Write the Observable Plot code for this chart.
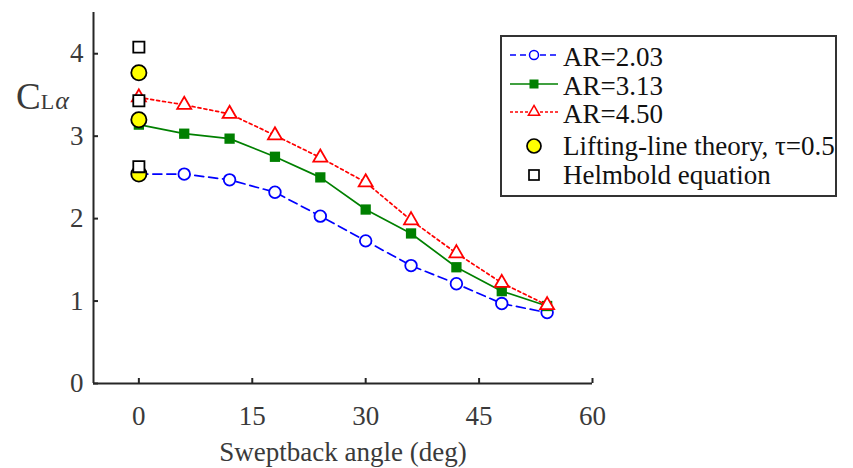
<!DOCTYPE html>
<html>
<head>
<meta charset="utf-8">
<script src="https://cdn.jsdelivr.net/npm/d3@7"></script>
<script src="https://cdn.jsdelivr.net/npm/@observablehq/plot@0.6"></script>
<style>
  body { margin: 0; background: #fff; }
  #wrap { position: relative; width: 853px; height: 468px; }
  #legend { position: absolute; left: 500px; top: 35px; }
</style>
</head>
<body>
<div id="wrap"></div>
<script>
// ---- data ----
const angles = [0, 6, 12, 18, 24, 30, 36, 42, 48, 54];
const ar203 = [2.54, 2.54, 2.47, 2.32, 2.03, 1.73, 1.43, 1.21, 0.97, 0.86];
const ar313 = [3.14, 3.03, 2.97, 2.75, 2.50, 2.11, 1.82, 1.41, 1.12, 0.94];
const ar450 = [3.47, 3.38, 3.27, 3.01, 2.74, 2.44, 1.98, 1.58, 1.22, 0.95];
const theoryAngles = [0, 0, 0];
const liftingLine = [3.77, 3.20, 2.54];
const helmbold = [4.08, 3.43, 2.63];
const xTicks = [0, 15, 30, 45, 60];
const yTicks = [0, 1, 2, 3, 4];
const seriesNames = ["AR=2.03", "AR=3.13", "AR=4.50", "Lifting-line theory, \u03c4=0.5", "Helmbold equation"];
const xLabel = "Sweptback angle (deg)";

const rows = (xs, ys) => xs.map((x, i) => ({x, y: ys[i]}));
const s1 = rows(angles, ar203), s2 = rows(angles, ar313), s3 = rows(angles, ar450);
const llt = rows(theoryAngles, liftingLine), hb = rows(theoryAngles, helmbold);

const font = "'Liberation Serif', 'Times New Roman', serif";
const W = 853, H = 468, mL = 93, mR = 261, mT = 12, mB = 85;
const frameW = W - mL - mR, frameH = H - mT - mB;
const fs = 27;

const chart = Plot.plot({
  width: W, height: H,
  marginLeft: mL, marginRight: mR, marginTop: mT, marginBottom: mB,
  x: {domain: [-6, 60]},
  y: {domain: [0, 4.5]},
  style: {fontFamily: font, fontSize: fs + "px", color: "#3a3a3a", background: "#fff", overflow: "visible"},
  marks: [
    Plot.axisX({ticks: xTicks, tickFormat: d3.format("d"), tickSize: 0, tickPadding: 22, label: null, fontSize: fs}),
    Plot.axisY({ticks: yTicks, tickFormat: d3.format("d"), tickSize: 0, tickPadding: 10, label: null, fontSize: fs}),
    Plot.tickX(xTicks, {x: d => d, insetTop: frameH - 5, stroke: "#262626", strokeWidth: 2}),
    Plot.tickY(yTicks, {y: d => d, insetRight: frameW - 5, stroke: "#262626", strokeWidth: 2}),
    Plot.ruleY([0], {stroke: "#262626", strokeWidth: 2}),
    Plot.ruleX([-6], {stroke: "#262626", strokeWidth: 2}),
    // AR=2.03
    Plot.line(s1, {x: "x", y: "y", stroke: "#0000ff", strokeWidth: 1.7, strokeDasharray: "9,5"}),
    Plot.dot(s1, {x: "x", y: "y", symbol: "circle", r: 5.8, fill: "#fff", stroke: "#0000ff", strokeWidth: 1.8}),
    // AR=3.13
    Plot.line(s2, {x: "x", y: "y", stroke: "#008000", strokeWidth: 1.7}),
    Plot.dot(s2, {x: "x", y: "y", symbol: "square", r: 5.8, fill: "#008000", stroke: "none"}),
    // AR=4.50
    Plot.line(s3, {x: "x", y: "y", stroke: "#ff0000", strokeWidth: 1.7, strokeDasharray: "3,3"}),
    Plot.dot(s3, {x: "x", y: "y", symbol: "triangle", r: 5.2, fill: "#fff", stroke: "#ff0000", strokeWidth: 1.8}),
    // theory points
    Plot.dot(llt, {x: "x", y: "y", symbol: "circle", r: 7.6, fill: "#ffff00", stroke: "#000", strokeWidth: 1.8}),
    Plot.dot(hb, {x: "x", y: "y", symbol: "square", r: 6.3, fill: "#fff", stroke: "#000", strokeWidth: 1.8}),
    // x axis label
    Plot.text([xLabel], {text: d => d, frameAnchor: "bottom", dy: 77, fontSize: fs, fill: "#3a3a3a"})
  ]
});
document.getElementById("wrap").appendChild(chart);

// y-axis label C_Lα
const svg = d3.select(chart);
const yl = svg.append("text").attr("x", 16).attr("y", 109).attr("text-anchor", "start")
  .attr("fill", "#3a3a3a").attr("font-family", font);
yl.append("tspan").attr("font-size", 37).text("C");
yl.append("tspan").attr("font-size", 22).text("L");
yl.append("tspan").attr("font-size", 26).attr("font-style", "italic").attr("dx", 1).text("\u03b1");

// legend (HTML-positioned SVG)
const leg = d3.select("#wrap").append("svg").attr("id", "legend")
  .attr("width", 338).attr("height", 163);
leg.append("rect").attr("x", 1).attr("y", 1).attr("width", 335).attr("height", 160)
  .attr("fill", "#fff").attr("stroke", "#333").attr("stroke-width", 2);
const rowY = [22, 51, 79, 111, 140];
const sx0 = 10, sx1 = 58, sc = 34, tx = 63;
const styles = [
  {stroke: "#0000ff", dash: "6,4"},
  {stroke: "#008000", dash: null},
  {stroke: "#ff0000", dash: "3,2"}
];
styles.forEach((st, i) => {
  leg.append("line").attr("x1", sx0).attr("x2", sx1).attr("y1", rowY[i] - 2).attr("y2", rowY[i] - 2)
    .attr("stroke", st.stroke).attr("stroke-width", 1.5).attr("stroke-dasharray", st.dash);
});
const sym = d3.symbol();
leg.append("circle").attr("cx", sc).attr("cy", rowY[0] - 2).attr("r", 4.5)
  .attr("fill", "#fff").attr("stroke", "#0000ff").attr("stroke-width", 1.5);
leg.append("rect").attr("x", sc - 4.5).attr("y", rowY[1] - 6.5).attr("width", 9).attr("height", 9)
  .attr("fill", "#008000");
leg.append("path").attr("d", sym.type(d3.symbolTriangle).size(55)())
  .attr("transform", `translate(${sc},${rowY[2] - 2})`)
  .attr("fill", "#fff").attr("stroke", "#ff0000").attr("stroke-width", 1.5);
leg.append("circle").attr("cx", sc).attr("cy", rowY[3]).attr("r", 7)
  .attr("fill", "#ffff00").attr("stroke", "#000").attr("stroke-width", 1.7);
leg.append("rect").attr("x", sc - 5).attr("y", rowY[4] - 5).attr("width", 10).attr("height", 10)
  .attr("fill", "#fff").attr("stroke", "#000").attr("stroke-width", 1.7);
seriesNames.forEach((name, i) => {
  leg.append("text").attr("x", tx).attr("y", rowY[i]).attr("dy", "0.35em")
    .attr("font-family", font).attr("font-size", fs).attr("fill", "#111").text(name);
});
</script>
</body>
</html>
